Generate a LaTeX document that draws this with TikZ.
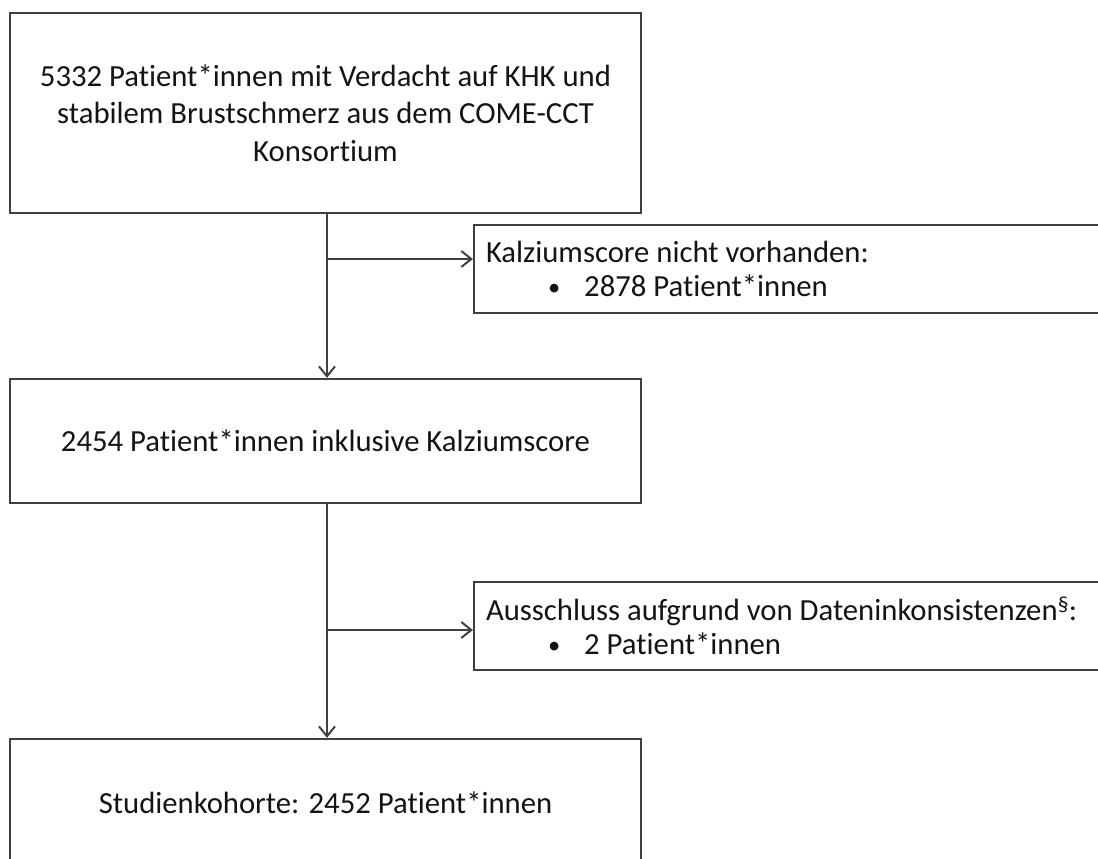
\documentclass[tikz,border=0pt]{standalone}
\usepackage{fontspec}
\setmainfont{Carlito}[Ligatures={NoCommon}]
\usetikzlibrary{arrows.meta}
\definecolor{linegray}{HTML}{404040}
\definecolor{textblack}{HTML}{141414}
\newcommand{\smbullet}{\raisebox{1pt}{\scalebox{0.8}{•}}}
\begin{document}
\begin{tikzpicture}[x=1pt,y=-1pt,
  box/.style={draw=linegray, line width=2.2pt, minimum width=631pt, align=flush center,
    text=textblack, font=\fontsize{30.7}{37.5}\selectfont, inner sep=0pt},
  sidebox/.style={draw=linegray, line width=2.2pt, minimum width=640pt, minimum height=88pt,
    text width=616pt, align=flush left, inner xsep=12pt, inner ysep=0pt,
    text=textblack, font=\fontsize{30.7}{34}\selectfont},
  conn/.style={draw=linegray, line width=2pt, -{Straight Barb[length=10pt,width=16pt,line width=2pt]}}]
\useasboundingbox (0,0) rectangle (1098,859);
\clip (0,0) rectangle (1098,859);
\fill[white] (0,0) rectangle (1098,859);
\node[box, minimum height=200pt] (b1) at (325.5,113)
  {5332 Patient*innen mit Verdacht auf KHK und\\stabilem Brustschmerz aus dem COME-CCT\\Konsortium};
\node[box, minimum height=124pt] (b2) at (325.5,441)
  {2454 Patient*innen inklusive Kalziumscore};
\node[box, minimum height=128pt] (b3) at (325.5,803)
  {Studienkohorte: 2452 Patient*innen};
\node[sidebox] (s1) at (794,269)
  {Kalziumscore nicht vorhanden:\\\hspace*{62pt}\smbullet\hspace{24pt}2878 Patient*innen};
\node[sidebox] (s2) at (794,626)
  {Ausschluss aufgrund von Dateninkonsistenzen\textsuperscript{§}:\\\hspace*{62pt}\smbullet\hspace{24pt}2 Patient*innen};
\coordinate (j1) at (327,259);
\coordinate (j2) at (327,630);
\draw[conn] (b1.south -| j1) -- (b2.north -| j1);
\draw[conn] (j1) -- (j1 -| s1.west);
\draw[conn] (b2.south -| j2) -- (b3.north -| j2);
\draw[conn] (j2) -- (j2 -| s2.west);
\end{tikzpicture}
\end{document}
